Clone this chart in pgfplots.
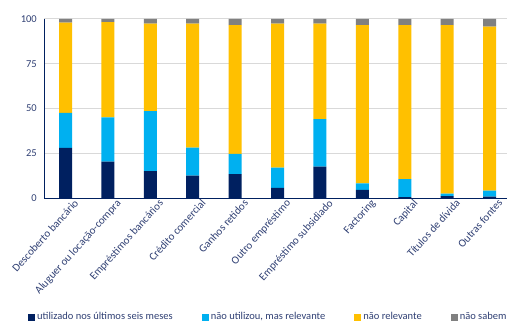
\documentclass[border=0pt]{standalone}
\usepackage{pgfplots}
\pgfplotsset{compat=1.18}
\usepackage{pgfplotstable}
\usepackage{fontspec}
\setmainfont{Carlito}
\definecolor{cnavy}{HTML}{002060}
\definecolor{cblue}{HTML}{00B0F0}
\definecolor{cyellow}{HTML}{FFC000}
\definecolor{cgray}{HTML}{808080}
\definecolor{ctext}{HTML}{2F3F73}
\definecolor{cgrid}{HTML}{D9D9D9}
\pgfplotstableread{
x navy blue yellow gray
0 28.0 19.5 50.5 2.0
1 20.3 24.7 53.3 1.7
2 15.0 33.6 48.8 2.6
3 12.5 15.6 69.3 2.6
4 13.3 11.3 72.0 3.4
5 5.6 11.4 80.4 2.6
6 17.5 26.6 53.3 2.6
7 4.6 3.6 88.4 3.4
8 0.5 10.1 86.0 3.4
9 1.0 1.4 94.2 3.4
10 0.7 3.4 91.6 4.3
}\datatable
\begin{document}
\begin{tikzpicture}
\useasboundingbox (0,0) rectangle (507pt,327pt);
\begin{axis}[
  at={(44.3pt,129pt)}, anchor=south west,
  scale only axis, width=462.7pt, height=179pt,
  ybar stacked, bar width=13pt,
  xmin=-0.5, xmax=10.41, ymin=0, ymax=100,
  ytick={0,25,50,75,100},
  xtick={0,...,10},
  xticklabels={Descoberto bancário, Aluguer ou locação-compra, Empréstimos bancários, Crédito comercial, Ganhos retidos, Outro empréstimo, Empréstimo subsidiado, Factoring, Capital, Títulos de dívida, Outras fontes},
  xticklabel style={rotate=48, anchor=north east, font=\fontsize{11}{13}\selectfont, text=ctext, inner sep=1pt, xshift=6pt, yshift=-5pt},
  yticklabel style={font=\fontsize{10.5}{12}\selectfont, text=ctext, xshift=-4pt},
  /pgf/number format/assume math mode=true,
  major tick length=0pt,
  axis x line*=bottom, axis y line*=left,
  axis line style={cnavy, line width=1pt},
  ymajorgrids, grid style={cgrid, line width=1pt},
  legend columns=4,
  legend style={at={(-0.0352,-0.665)}, anchor=west, draw=none, fill=none, font=\fontsize{10.5}{12}\selectfont, text=ctext, inner sep=0pt,
    /tikz/every even column/.append style={column sep=27pt}},
  legend image code/.code={\fill[#1] (0pt,-3.5pt) rectangle (7pt,3.5pt);},
  legend cell align=left,
]
\addplot[fill=cnavy, draw=none] table[x=x,y=navy]{\datatable};
\addplot[fill=cblue, draw=none] table[x=x,y=blue]{\datatable};
\addplot[fill=cyellow, draw=none] table[x=x,y=yellow]{\datatable};
\addplot[fill=cgray, draw=none] table[x=x,y=gray]{\datatable};
\legend{utilizado nos últimos seis meses, não utilizou{,} mas relevante, não relevante, não sabem}
\end{axis}
\end{tikzpicture}
\end{document}
